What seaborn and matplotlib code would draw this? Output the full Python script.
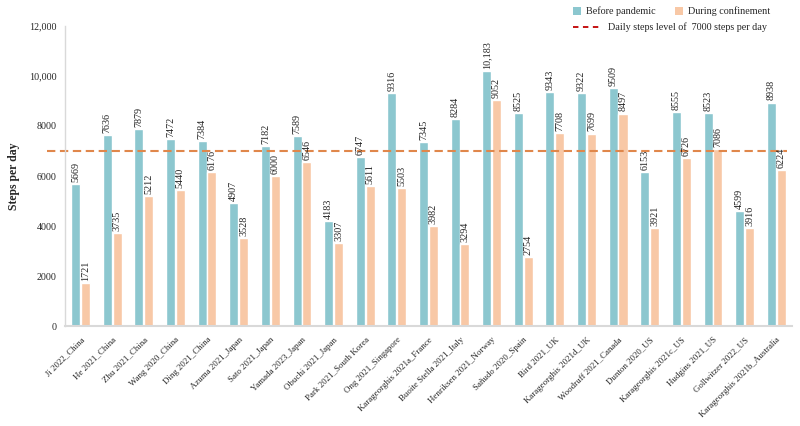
import matplotlib
matplotlib.use("Agg")
import matplotlib.pyplot as plt
from matplotlib.patches import Patch
from matplotlib.lines import Line2D
import seaborn as sns
import pandas as pd

studies = ["Ji 2022_China", "He 2021_China", "Zhu 2021_China", "Wang 2020_China",
           "Ding 2021_China", "Azuma 2021_Japan", "Sato 2021_Japan", "Yamada 2023_Japan",
           "Obuchi 2021_Japan", "Park 2021_South Korea", "Ong 2021_Singapore",
           "Karageorghis 2021a_France", "Buoite Stella 2021_Italy", "Henriksen 2021_Norway",
           "Sañudo 2020_Spain", "Bird 2021_UK", "Karageorghis 2021d_UK",
           "Woodruff 2021_Canada", "Dunton 2020_US", "Karageorghis 2021c_US",
           "Hudgins 2021_US", "Gollwitzer 2022_US", "Karageorghis 2021b_Australia"]
before = [5669, 7636, 7879, 7472, 7384, 4907, 7182, 7589, 4183, 6747, 9316, 7345,
          8284, 10183, 8525, 9343, 9322, 9509, 6153, 8555, 8523, 4599, 8938]
during = [1721, 3735, 5212, 5440, 6176, 3528, 6000, 6546, 3307, 5611, 5503, 3982,
          3294, 9052, 2754, 7708, 7699, 8497, 3921, 6726, 7086, 3916, 6224]
series = ["Before pandemic", "During confinement"]
threshold = 7000
yticks = [0, 2000, 4000, 6000, 8000, 10000, 12000]
ytick_labels = ["0", "2000", "4000", "6000", "8000", "10,000", "12,000"]

df = pd.DataFrame({
    "study": studies * 2,
    "steps": before + during,
    "period": [series[0]] * len(studies) + [series[1]] * len(studies),
})

sns.set_theme(style="white")
plt.rcParams["font.family"] = ["Liberation Serif", "DejaVu Serif"]

colors = {"Before pandemic": "#8cc7cf", "During confinement": "#f8c8a6"}

fig = plt.figure(figsize=(8, 4.26), dpi=100)
ax = fig.add_axes([0.081, 0.2347, 0.909, 0.7043])

sns.barplot(data=df, x="study", y="steps", hue="period", palette=colors,
            width=0.62, gap=0.08, ax=ax, legend=False, saturation=1)

for cont in ax.containers:
    labels = [f"{int(v):,}" if v >= 10000 else f"{int(v)}" for v in cont.datavalues]
    ax.bar_label(cont, labels=labels, rotation=90, fontsize=7.3, padding=1.5,
                 color="#222222")

ax.axhline(threshold, xmin=-0.025, xmax=0.993, clip_on=False, color="#e0874b",
           lw=1.5, ls=(0, (4, 2.2)))

ax.set_ylim(0, 12000)
ax.set_xlim(-0.5, len(studies) - 0.5)
ax.set_yticks(yticks)
ax.set_yticklabels(ytick_labels, fontsize=7.2)
ax.set_xticks(range(len(studies)))
ax.set_xticklabels(studies, rotation=45, ha="right", rotation_mode="anchor", fontsize=6.4)
ax.tick_params(axis="x", length=0, pad=7)
ax.tick_params(axis="y", length=3, color="#d9d9d9", pad=3)
ax.set_xlabel("")
ax.set_ylabel("Steps per day", fontsize=8.5, fontweight="bold")
ax.yaxis.set_label_coords(-0.062, 0.5)

for s in ["top", "right"]:
    ax.spines[s].set_visible(False)
ax.spines["left"].set_color("#d9d9d9")
ax.spines["left"].set_linewidth(1)
ax.spines["bottom"].set_color("#d9d9d9")
ax.spines["bottom"].set_linewidth(1.5)

h1 = [Patch(facecolor=colors[s], edgecolor="none", label=s) for s in series]
leg1 = fig.legend(handles=h1, loc="upper left", bbox_to_anchor=(0.708, 1.0),
                  ncol=2, frameon=False, fontsize=7.3, handlelength=0.8,
                  handleheight=0.8, handletextpad=0.5, columnspacing=1.9,
                  borderaxespad=0.25)
h2 = [Line2D([0], [0], color="#c00000", lw=1.3, ls=(0, (3, 2.5)),
             label="Daily steps level of  7000 steps per day")]
leg2 = fig.legend(handles=h2, loc="upper left", bbox_to_anchor=(0.708, 0.963),
                  frameon=False, fontsize=7.3, handlelength=2.6, handletextpad=0.9,
                  borderaxespad=0.25)

fig.savefig("out.png", dpi=100)
